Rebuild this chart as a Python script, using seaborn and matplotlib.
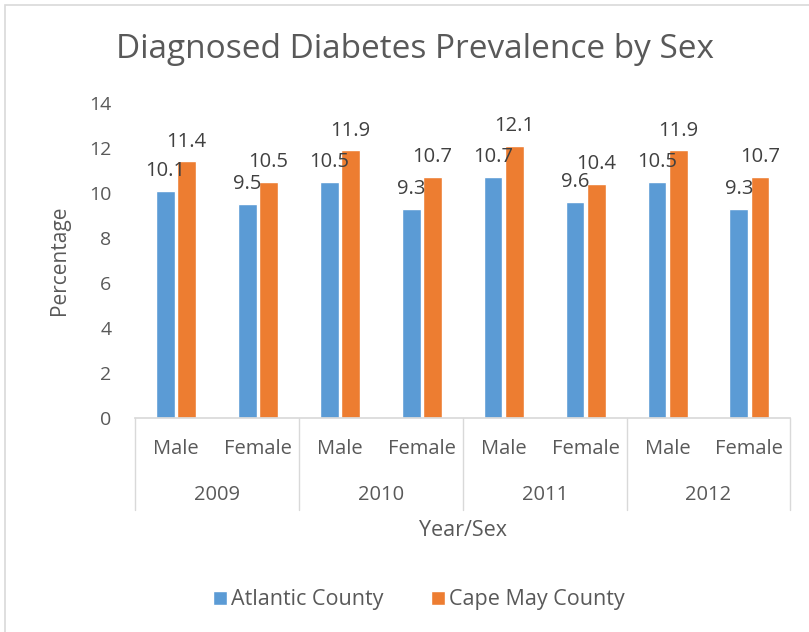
import pandas as pd
import matplotlib.pyplot as plt
import seaborn as sns
from matplotlib.patches import Rectangle

# ---- data ----
years = ["2009", "2010", "2011", "2012"]
sexes = ["Male", "Female"]
atlantic = [10.1, 9.5, 10.5, 9.3, 10.7, 9.6, 10.5, 9.3]
cape_may = [11.4, 10.5, 11.9, 10.7, 12.1, 10.4, 11.9, 10.7]
counties = ["Atlantic County", "Cape May County"]
colors = ["#5B9BD5", "#ED7D31"]

cats = [f"{y} {s}" for y in years for s in sexes]
df = pd.DataFrame({
    "cat": cats * 2,
    "value": atlantic + cape_may,
    "county": [counties[0]] * len(cats) + [counties[1]] * len(cats),
})

sns.set_theme(style="white")
plt.rcParams["font.family"] = ["Open Sans", "DejaVu Sans"]
txt = "#595959"

fig = plt.figure(figsize=(8.09, 6.32), dpi=100)
ax = fig.add_axes([0.167, 0.339, 0.81, 0.498])

sns.barplot(data=df, x="cat", y="value", hue="county", order=cats,
            hue_order=counties, palette=colors, width=0.52, gap=0.12,
            saturation=1, ax=ax, legend=True)

for cont in ax.containers:
    ax.bar_label(cont, fmt="%.1f", padding=7, fontsize=14.5, color="#404040")

ax.set_ylim(0, 14)
ax.set_xlim(-0.5, len(cats) - 0.5)
ax.set_yticks(range(0, 15, 2))
ax.tick_params(axis="y", labelsize=14, colors=txt, pad=17, length=0)
ax.set_xticks(range(len(cats)))
ax.set_xticklabels([s for y in years for s in sexes])
ax.tick_params(axis="x", labelsize=14.5, colors=txt, pad=15, length=0)
for s in ["top", "right", "left"]:
    ax.spines[s].set_visible(False)
ax.spines["bottom"].set_color("#D9D9D9")
ax.set_xlabel("")
ax.set_ylabel("Percentage", fontsize=15, color=txt, labelpad=14)

# second level of the category axis
trans = ax.get_xaxis_transform()
for i in range(len(years) + 1):
    xpos = i * 2 - 0.5
    ax.plot([xpos, xpos], [0, -0.292], transform=trans, color="#D9D9D9",
            lw=1, clip_on=False)
for i, y in enumerate(years):
    ax.text(i * 2 + 0.5, -0.244, y, transform=trans, ha="center", va="center",
            fontsize=14.5, color=txt)
ax.text(0.5, -0.358, "Year/Sex", transform=ax.transAxes, ha="center",
        va="center", fontsize=15.5, color=txt)

fig.text(0.513, 0.922, "Diagnosed Diabetes Prevalence by Sex", ha="center",
         va="center", fontsize=24, color=txt)

handles, labels = ax.get_legend_handles_labels()
ax.get_legend().remove()
fig.legend(handles, labels, loc="center", bbox_to_anchor=(0.518, 0.051), ncol=2,
           frameon=False, fontsize=15.5, labelcolor=txt, handlelength=0.65,
           handleheight=0.65, handletextpad=0.2, columnspacing=2.2)

fig.patches.append(Rectangle((0.006, -0.01), 1.5, 1.002, transform=fig.transFigure,
                             fill=False, edgecolor="#D9D9D9", lw=1.2))

fig.savefig("out.png", dpi=100)
